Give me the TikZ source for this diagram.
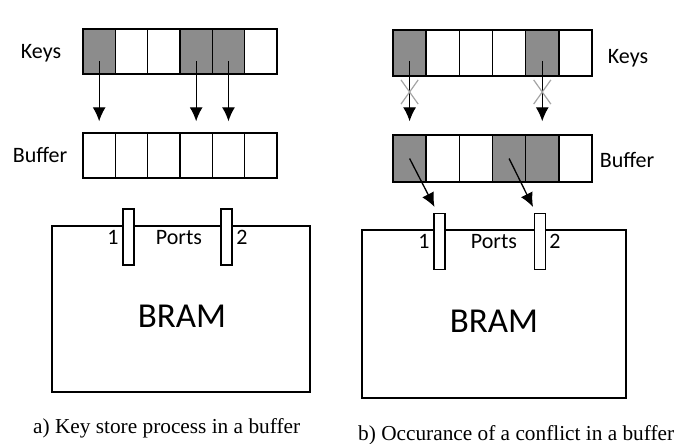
\documentclass[tikz,border=0pt]{standalone}
\usepackage{fontspec}
\setmainfont{Carlito}
\newfontfamily\capfont{Liberation Serif}
\usetikzlibrary{arrows.meta,shapes.misc,calc}
\definecolor{keygray}{RGB}{140,140,140}
\definecolor{crossgray}{RGB}{165,165,165}
\tikzstyle{cellstyle}=[draw=black,line width=1.4bp,inner sep=0pt,minimum height=45bp]
\tikzstyle{portstyle}=[draw=black,fill=white,line width=1.1bp,inner sep=0pt,minimum width=11bp,minimum height=56bp]
\tikzstyle{bramstyle}=[draw=black,line width=1.3bp,inner sep=0pt]
\tikzstyle{arrowstyle}=[line width=1.3bp,-{Latex[length=14bp,width=13bp]}]
\tikzstyle{crossstyle}=[cross out,draw=crossgray,line width=1.2bp,inner sep=0pt,minimum width=16bp,minimum height=23bp]
\tikzstyle{labelstyle}=[inner sep=0pt,anchor=base,font=\fontsize{22bp}{24bp}\selectfont]
\tikzstyle{captionstyle}=[inner sep=0pt,anchor=base west,font=\capfont\fontsize{21.3bp}{23bp}\selectfont]

\begin{document}
\begin{tikzpicture}[x={(1bp,0bp)},y={(0bp,-1bp)}]
      \useasboundingbox (0,0) rectangle (681,444);

      % cell widths of the two rows (left and right panel)
      \def\wa{32.33} % left cells
      \def\wb{33.17} % right cells

      % a) left panel
      % keys and buffer rows
      \foreach \i/\f in {1/keygray,2/white,3/white,4/keygray,5/keygray,6/white}
        \node[cellstyle,fill=\f,minimum width=\wa bp] (ka\i) at ({83+\wa*(\i-0.5)},51.5) {};
      \foreach \i in {1,...,6}
        \node[cellstyle,fill=white,minimum width=\wa bp] (ba\i) at ({83+\wa*(\i-0.5)},155.5) {};
      \node[labelstyle] (keysa) at (41,59) {Keys};
      \node[labelstyle] (bufa) at (40,163) {Buffer};
      % memory with its two ports
      \node[bramstyle,minimum width=258bp,minimum height=166bp] (brama) at (181,309) {};
      \node[portstyle] (pa1) at (128.5,237) {};
      \node[portstyle] (pa2) at (226.5,237) {};
      \node[labelstyle] (na1) at (113,245) {1};
      \node[labelstyle] (na2) at (242,245) {2};
      \node[labelstyle] (portsa) at (179,245) {Ports};
      \node[labelstyle,font=\fontsize{35bp}{37bp}\selectfont] (ta) at (182,328) {BRAM};

      % keys go straight down into the buffer
      \foreach \i in {1,4,5}
        \draw[arrowstyle] ([yshift=-10bp]ka\i.center) -- ([yshift=11bp]ba\i.north);

      % b) right panel
      \foreach \i/\f in {1/keygray,2/white,3/white,4/white,5/keygray,6/white}
        \node[cellstyle,fill=\f,minimum width=\wb bp,minimum height=46bp] (kb\i) at ({393+\wb*(\i-0.5)},53) {};
      \foreach \i/\f in {1/keygray,2/white,3/white,4/keygray,5/keygray,6/white}
        \node[cellstyle,fill=\f,minimum width=\wb bp,minimum height=47bp] (bb\i) at ({393+\wb*(\i-0.5)},158.5) {};
      \node[labelstyle] (keysb) at (628,64) {Keys};
      \node[labelstyle] (bufb) at (627,168) {Buffer};
      \node[bramstyle,minimum width=264bp,minimum height=168bp] (bramb) at (494,314) {};
      \node[portstyle] (pb1) at (439.5,241.5) {};
      \node[portstyle] (pb2) at (540,241.5) {};
      \node[labelstyle] (nb1) at (424,249) {1};
      \node[labelstyle] (nb2) at (555,249) {2};
      \node[labelstyle] (portsb) at (494,249) {Ports};
      \node[labelstyle,font=\fontsize{35bp}{37bp}\selectfont] (tb) at (494,333) {BRAM};

      % blocked writes (crossed) and the conflicting reads to the ports
      \foreach \i in {1,5} {
        \draw[arrowstyle] ([yshift=-8bp]kb\i.center) -- ([yshift=13bp]bb\i.north);
        \node[crossstyle] (cb\i) at ($(kb\i.center)+(0,39)$) {};
      }
      \draw[arrowstyle] (bb1.center) -- ([xshift=-5bp,yshift=6bp]pb1.north);
      \draw[arrowstyle] (bb4.center) -- ([xshift=-7bp,yshift=6bp]pb2.north);

      % captions
      \node[captionstyle] (capa) at (33,433) {a) Key store process in a buffer};
      \node[captionstyle] (capb) at (358,440) {b) Occurance of a conflict in a buffer};

\end{tikzpicture}
\end{document}
